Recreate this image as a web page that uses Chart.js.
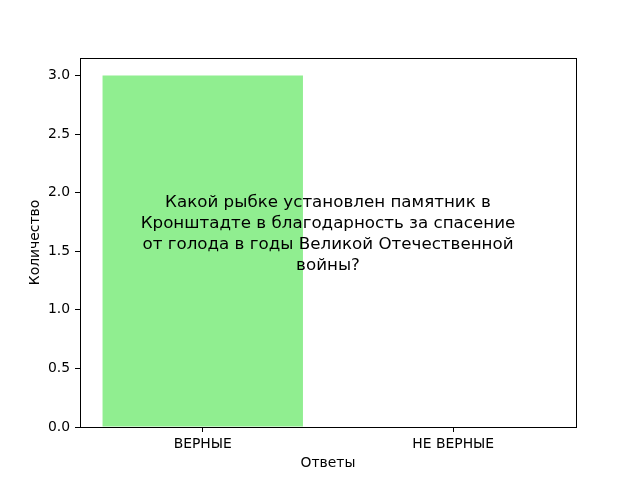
<!DOCTYPE html>
<html>
<head>
<meta charset="utf-8">
<script src="https://cdn.jsdelivr.net/npm/chart.js@4"></script>
<style>
html,body{margin:0;padding:0;background:#fff;}
#wrap{width:640px;height:480px;}
</style>
</head>
<body>
<div id="wrap"><canvas id="c" width="640" height="480"></canvas></div>
<script>
const categories = ['ВЕРНЫЕ', 'НЕ ВЕРНЫЕ'];
const counts = [3, 0];
const barColors = ['#90EE90', '#F08080'];
const yTicks = [0, 0.5, 1.0, 1.5, 2.0, 2.5, 3.0];
const titleLines = [
  'Какой рыбке установлен памятник в',
  'Кронштадте в благодарность за спасение',
  'от голода в годы Великой Отечественной',
  'войны?'
];
const xTitle = 'Ответы';
const yTitle = 'Количество';

const FONT = "'DejaVu Sans', sans-serif";

const framePlugin = {
  id: 'frame',
  afterDatasetsDraw(chart) {
    const {ctx, chartArea: a} = chart;
    ctx.save();
    ctx.strokeStyle = '#000';
    ctx.lineWidth = 1;
    ctx.strokeRect(Math.round(a.left) + 0.5, Math.round(a.top) + 0.5,
                   Math.round(a.right - a.left), Math.round(a.bottom - a.top));
    ctx.fillStyle = '#000';
    ctx.font = '16.7px ' + FONT;
    ctx.textAlign = 'center';
    ctx.textBaseline = 'middle';
    const cx = (a.left + a.right) / 2;
    const cy = (a.top + a.bottom) / 2 - 8;
    const lh = 21;
    const n = titleLines.length;
    titleLines.forEach((t, i) => {
      ctx.fillText(t, cx, cy + (i - (n - 1) / 2) * lh);
    });
    ctx.restore();
  }
};

new Chart(document.getElementById('c'), {
  type: 'bar',
  data: {
    datasets: [{
      data: counts.map((v, i) => ({ x: i, y: v })),
      backgroundColor: barColors,
      borderWidth: 0,
      barPercentage: 0.8,
      categoryPercentage: 1.0
    }]
  },
  options: {
    responsive: false,
    animation: false,
    devicePixelRatio: 1,
    layout: { padding: { left: 0, right: 64, top: 58, bottom: 0 } },
    plugins: { legend: { display: false }, tooltip: { enabled: false }, title: { display: false } },
    scales: {
      x: {
        type: 'linear',
        offset: false,
        min: -0.49,
        max: 1.49,
        afterBuildTicks(scale) { scale.ticks = categories.map((c, i) => ({ value: i })); },
        grid: { drawOnChartArea: false, drawTicks: true, tickLength: 5, color: '#000', offset: false },
        border: { display: false },
        ticks: {
          color: '#000', font: { family: FONT, size: 13.9 }, padding: 4, maxRotation: 0, autoSkip: false,
          callback: v => categories[Math.round(v)]
        },
        title: { display: true, text: xTitle, color: '#000', font: { family: FONT, size: 13.9 }, padding: { top: 8, bottom: 8 } },
        afterFit(scale) { scale.height = 53; }
      },
      y: {
        type: 'linear',
        min: 0,
        max: 3.15,
        afterBuildTicks(scale) { scale.ticks = yTicks.map(v => ({ value: v })); },
        grid: { drawOnChartArea: false, drawTicks: true, tickLength: 5, color: '#000' },
        border: { display: false },
        ticks: {
          color: '#000', font: { family: FONT, size: 13.9 }, padding: 5,
          callback: v => Number(v).toFixed(1)
        },
        title: { display: true, text: yTitle, color: '#000', font: { family: FONT, size: 13.9 }, padding: { top: 27, bottom: 27 } },
        afterFit(scale) { scale.width = 80; }
      }
    }
  },
  plugins: [framePlugin]
});
</script>
</body>
</html>
